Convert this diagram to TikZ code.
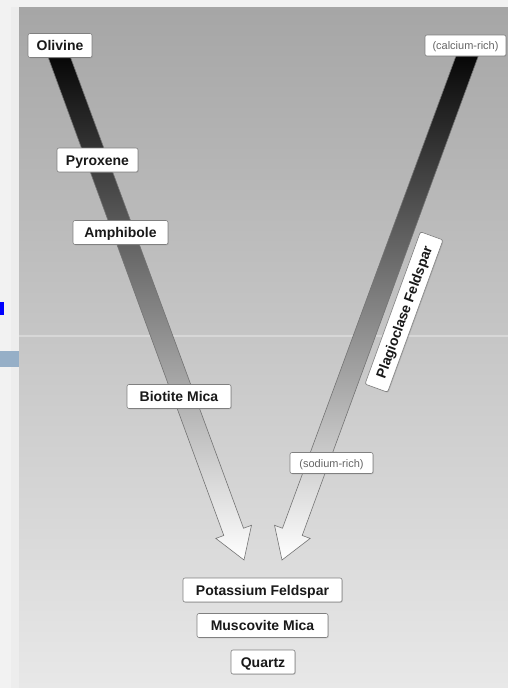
\documentclass[tikz,border=0pt]{standalone}
\usepackage{fontspec}
\newfontfamily\labelfont{Liberation Sans}
\usetikzlibrary{calc,shadows}
\definecolor{markbar}{HTML}{96AFC7}
\pgfdeclarelayer{panel}
\pgfdeclarelayer{arrows}
\pgfsetlayers{panel,arrows,main}

\begin{document}
\begin{tikzpicture}[x=1pt,y=-1pt,
    mineral/.style={draw=black!50, fill=white, rounded corners=2pt, line width=0.6pt,
        font=\labelfont\bfseries\fontsize{14pt}{14pt}\selectfont, text=black!90,
        minimum height=24pt, inner sep=0pt, text height=10pt, text depth=0pt,
        drop shadow={shadow xshift=0.8pt, shadow yshift=-0.8pt, opacity=0.3}},
    note/.style={mineral, font=\labelfont\fontsize{11pt}{11pt}\selectfont, text=black!60,
        minimum height=21pt, text height=8pt},
    arrowbody/.style={draw=black!55, line width=0.6pt,
        top color=black, middle color=black!67, bottom color=white}]
    \useasboundingbox (0,0) rectangle (508,688);

    % frame and backdrop
    \begin{pgfonlayer}{panel}
        \fill[black!5] (0,0) rectangle (508,688);
        \fill[black!7] (11,7) rectangle (19,688);
        \shade[top color=black!35, bottom color=black!9] (19,7) rectangle (508,688);
        \draw[white, opacity=0.3, line width=1.5pt] (19,336) -- (508,336);
        \fill[blue] (0,302) rectangle (4,315);
        \fill[markbar] (0,351) rectangle (19,367);
    \end{pgfonlayer}

    % minerals
    \node[mineral, minimum width=64pt] (olivine) at (60,45.5) {Olivine};
    \node[note, minimum width=81pt] (calcium) at (465.5,45.5) {(calcium-rich)};
    \node[mineral, minimum width=81pt] (pyroxene) at (97.5,160) {Pyroxene};
    \node[mineral, minimum width=95pt] (amphibole) at (120.5,232.5) {Amphibole};
    \node[mineral, minimum width=104pt] (biotite) at (179,396.5) {Biotite Mica};
    \node[note, minimum width=83pt] (sodium) at (331.5,463) {(sodium-rich)};
    \node[mineral, minimum width=162pt, rotate=70] (plagioclase) at (404,312) {Plagioclase Feldspar};
    \node[mineral, minimum width=159pt] (potassium) at (262.5,590) {Potassium Feldspar};
    \node[mineral, minimum width=131pt] (muscovite) at (262.5,625.5) {Muscovite Mica};
    \node[mineral, minimum width=64pt] (quartz) at (263,662) {Quartz};

    \coordinate (oltail) at ($(olivine)+(-5,0)$);
    \coordinate (catail) at ($(calcium)+(5.5,0)$);
    \coordinate (ltip) at (244,560);
    \coordinate (rtip) at (282,560);

    % the two series
    \begin{pgfonlayer}{arrows}
        \foreach \s/\t in {oltail/ltip, catail/rtip} {
            \coordinate (base) at ($(\t)!30pt!(\s)$);
            \path[arrowbody] ($(\s)!10.5pt!90:(\t)$) -- ($(base)!10.5pt!90:(\t)$)
                -- ($(base)!19pt!90:(\t)$) -- (\t) -- ($(base)!19pt!-90:(\t)$)
                -- ($(base)!10.5pt!-90:(\t)$) -- ($(\s)!10.5pt!-90:(\t)$) -- cycle;
        }
    \end{pgfonlayer}
\end{tikzpicture}
\end{document}
